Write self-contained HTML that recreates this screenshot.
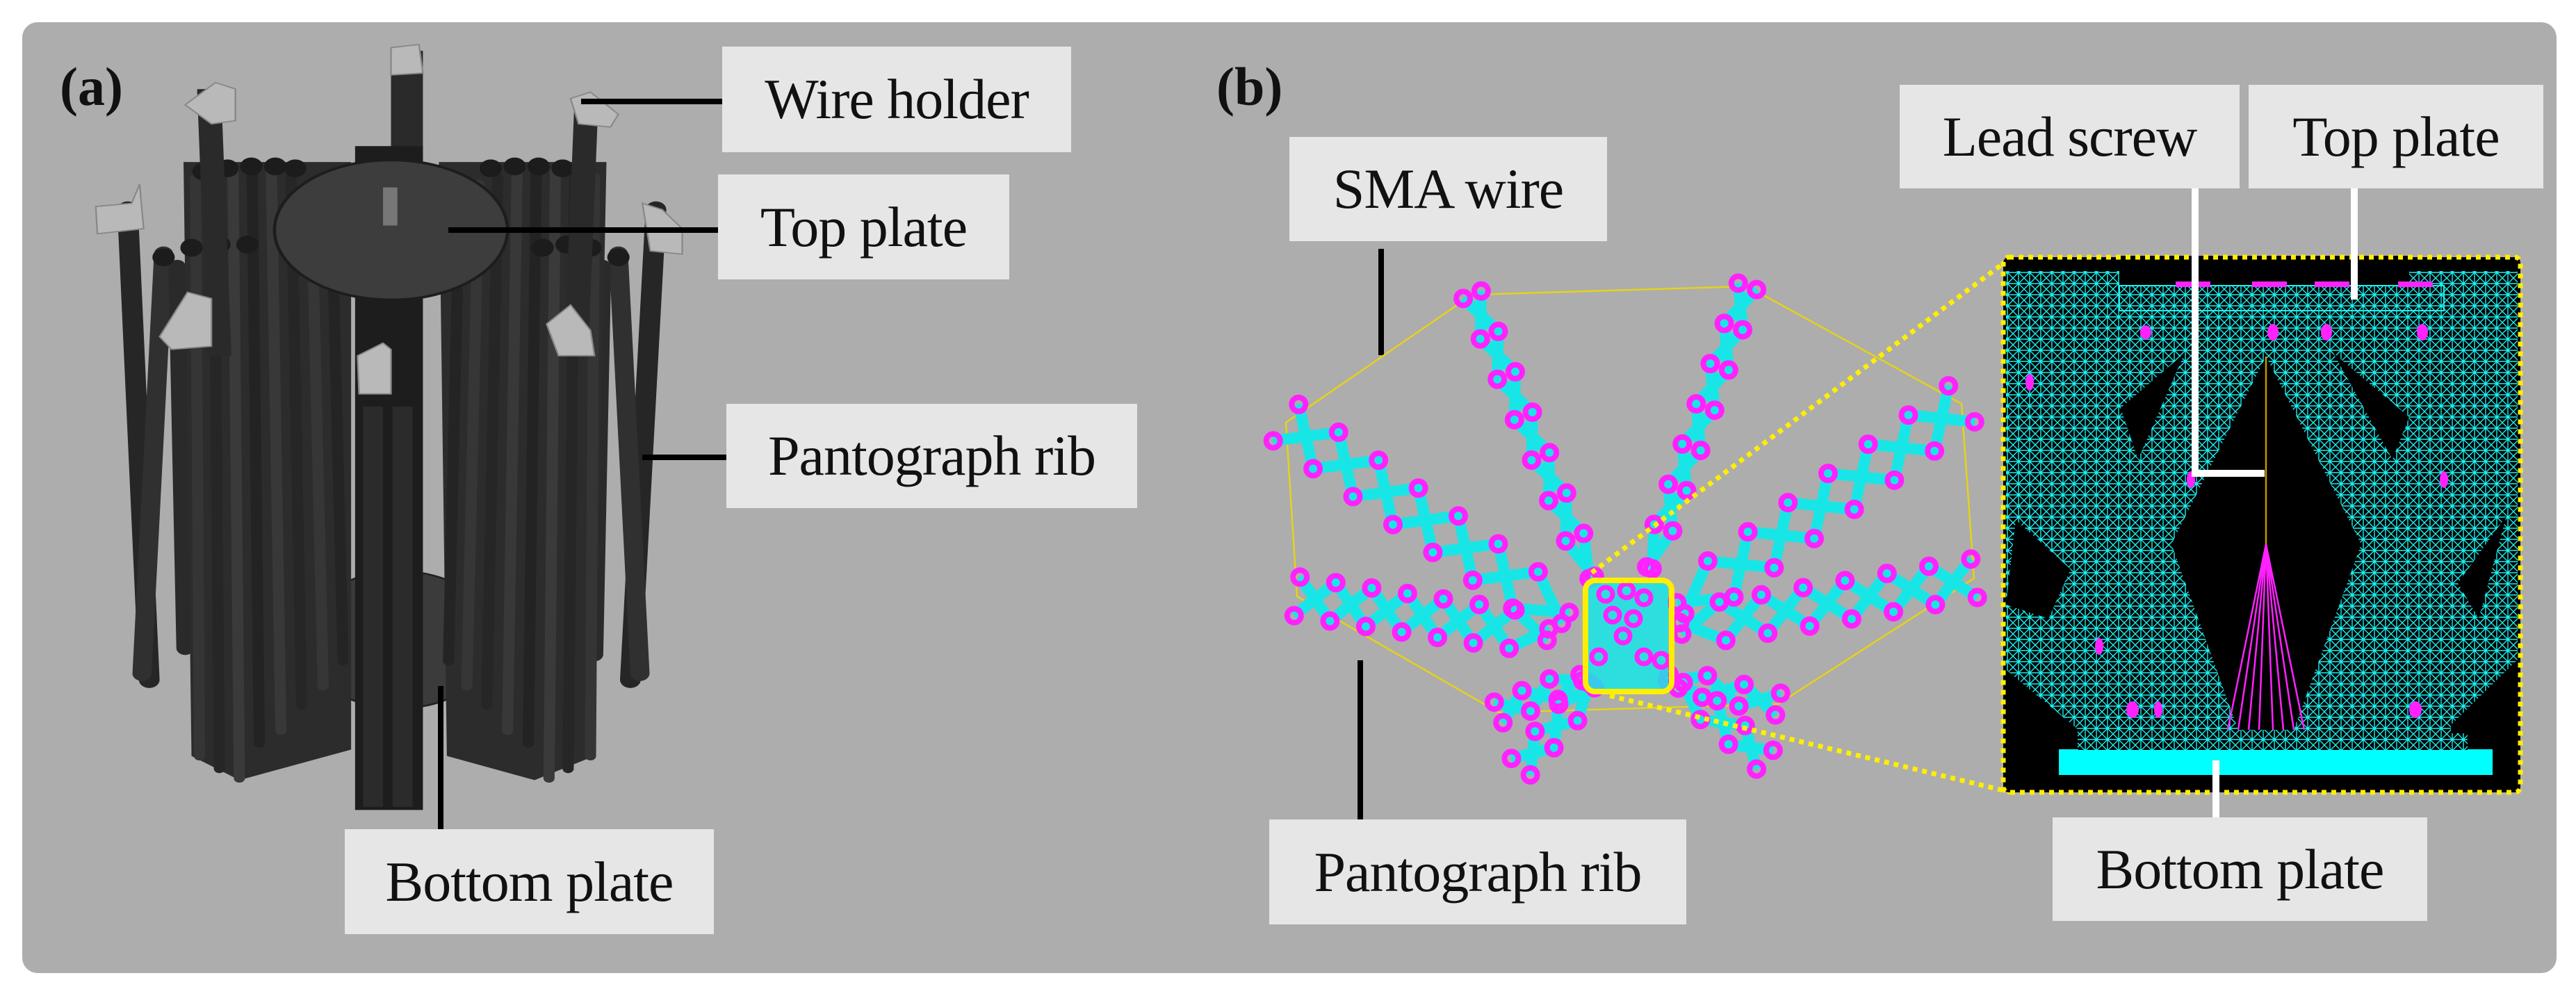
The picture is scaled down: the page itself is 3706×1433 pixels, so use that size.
<!DOCTYPE html>
<html><head><meta charset="utf-8"><style>
html,body{margin:0;padding:0;background:#fff;}
body{width:3706px;height:1433px;position:relative;overflow:hidden;font-family:"Liberation Serif",serif;}
.panel{position:absolute;left:32px;top:32px;width:3646px;height:1368px;background:#adadad;border-radius:22px;}
.lab{position:absolute;background:#e6e6e6;color:#111;font-size:82px;display:flex;align-items:center;justify-content:center;white-space:nowrap;letter-spacing:-1px;}
.tag{position:absolute;font-weight:bold;font-size:78px;color:#111;}
svg{position:absolute;left:0;top:0;}
</style></head><body>
<div class="panel"></div>
<svg width="3706" height="1433" viewBox="0 0 3706 1433">
<defs>
<pattern id="mesh" width="16" height="16" patternUnits="userSpaceOnUse">
<rect width="16" height="16" fill="#000"/>
<path d="M0 0L16 16M16 0L0 16M0 8H16M8 0V16" stroke="#1ef0f0" stroke-width="1.4"/>
</pattern>
</defs>
<!-- LEFT MECHANISM -->
<g transform="scale(1.148,0.914)">
<ellipse cx="500" cy="1007" rx="122" ry="108" fill="#3b3b3b" stroke="#222" stroke-width="3"/>
<g stroke-linecap="round">
<line x1="160" y1="330" x2="187" y2="1070" stroke="#262626" stroke-width="26"/>
<line x1="205" y1="400" x2="178" y2="1060" stroke="#303030" stroke-width="24"/>
<line x1="222" y1="420" x2="232" y2="1020" stroke="#2a2a2a" stroke-width="22"/>
<line x1="822" y1="330" x2="790" y2="1070" stroke="#262626" stroke-width="26"/>
<line x1="775" y1="400" x2="802" y2="1060" stroke="#303030" stroke-width="24"/>
<line x1="755" y1="420" x2="745" y2="1030" stroke="#2a2a2a" stroke-width="22"/>
</g>
<polygon points="230,255 440,255 440,1180 300,1228 240,1190" fill="#2c2c2c"/>
<polygon points="550,255 760,255 745,1190 670,1228 560,1190" fill="#2c2c2c"/>
<g stroke-width="14" stroke-linecap="round">
<line x1="245" y1="280" x2="250" y2="1190" stroke="#353535"/>
<line x1="268" y1="270" x2="275" y2="1210" stroke="#262626"/>
<line x1="292" y1="270" x2="300" y2="1225" stroke="#3a3a3a"/>
<line x1="316" y1="270" x2="325" y2="1170" stroke="#232323"/>
<line x1="340" y1="270" x2="352" y2="1150" stroke="#383838"/>
<line x1="365" y1="280" x2="378" y2="1110" stroke="#262626"/>
<line x1="390" y1="290" x2="405" y2="1080" stroke="#363636"/>
<line x1="415" y1="300" x2="430" y2="1040" stroke="#242424"/>
<line x1="745" y1="280" x2="740" y2="1190" stroke="#353535"/>
<line x1="720" y1="270" x2="712" y2="1210" stroke="#262626"/>
<line x1="696" y1="270" x2="688" y2="1225" stroke="#3a3a3a"/>
<line x1="672" y1="270" x2="662" y2="1170" stroke="#232323"/>
<line x1="648" y1="270" x2="636" y2="1150" stroke="#383838"/>
<line x1="624" y1="280" x2="610" y2="1110" stroke="#262626"/>
<line x1="600" y1="290" x2="585" y2="1080" stroke="#363636"/>
<line x1="576" y1="300" x2="562" y2="1040" stroke="#242424"/>
</g>
<g fill="#1c1c1c">
<circle cx="255" cy="270" r="14"/><circle cx="285" cy="265" r="14"/><circle cx="315" cy="262" r="14"/><circle cx="345" cy="262" r="14"/><circle cx="370" cy="265" r="14"/>
<circle cx="240" cy="390" r="14"/><circle cx="275" cy="385" r="14"/><circle cx="310" cy="385" r="14"/>
<circle cx="615" cy="265" r="14"/><circle cx="645" cy="262" r="14"/><circle cx="675" cy="262" r="14"/><circle cx="705" cy="265" r="14"/>
<circle cx="680" cy="390" r="14"/><circle cx="710" cy="385" r="14"/><circle cx="740" cy="390" r="14"/>
<circle cx="205" cy="405" r="14"/><circle cx="775" cy="405" r="14"/>
</g>
<line x1="262" y1="140" x2="275" y2="560" stroke="#2a2a2a" stroke-width="30"/>
<line x1="735" y1="155" x2="722" y2="560" stroke="#2a2a2a" stroke-width="30"/>
<rect x="490" y="80" width="40" height="180" fill="#2a2a2a"/>
<rect x="445" y="230" width="85" height="1045" fill="#1d1d1d"/>
<rect x="455" y="640" width="25" height="630" fill="#2b2b2b"/>
<rect x="492" y="640" width="25" height="630" fill="#2b2b2b"/>
<ellipse cx="490" cy="362" rx="146" ry="110" fill="#3d3d3d" stroke="#1d1d1d" stroke-width="4"/>
<rect x="480" y="295" width="18" height="60" fill="#777"/>
<g fill="#b9b9b9" stroke="#888" stroke-width="2">
<polygon points="232,165 270,130 295,140 295,190 265,195"/>
<polygon points="715,155 740,145 775,180 765,200 725,195"/>
<polygon points="120,325 165,320 175,290 180,360 122,368"/>
<polygon points="805,320 830,330 855,360 855,400 815,395"/>
<polygon points="200,530 235,460 265,470 265,545 215,550"/>
<polygon points="685,510 715,480 740,520 745,560 700,560"/>
<polygon points="448,560 480,540 490,550 490,620 450,620"/>
<polygon points="490,75 525,70 530,115 490,118"/>
</g>
</g>
<!-- leaders (a) -->
<g stroke="#000" stroke-width="8">
<line x1="836" y1="146" x2="1039" y2="146"/>
<line x1="645" y1="331" x2="1033" y2="331"/>
<line x1="924" y1="658" x2="1045" y2="658"/>
<line x1="634" y1="987" x2="634" y2="1193"/>
<line x1="1987" y1="358" x2="1987" y2="511"/>
<line x1="1957" y1="950" x2="1957" y2="1179"/>
</g>
<!-- RIGHT (b) pantograph -->
<polygon points="2118,424 2514,412 2822,581 2840,832 2558,1013 2156,1025 1866,858 1850,608" fill="none" stroke="#e5d21a" stroke-width="2.5"/>
<g id="ribs"></g>
<rect x="2284" y="838" width="116" height="154" fill="#18e6e6" opacity="0.85"/>
<g fill="none" stroke="#ff22ff" stroke-width="7">
<circle cx="2310" cy="855" r="10"/><circle cx="2340" cy="850" r="10"/><circle cx="2365" cy="860" r="10"/><circle cx="2320" cy="885" r="10"/><circle cx="2350" cy="890" r="10"/><circle cx="2335" cy="915" r="10"/><circle cx="2300" cy="945" r="10"/><circle cx="2365" cy="945" r="10"/><circle cx="2390" cy="950" r="10"/>
</g>
<g stroke="#ffee00" stroke-width="7" stroke-dasharray="7,7">
<line x1="2290" y1="824" x2="2894" y2="370"/>
<line x1="2316" y1="1001" x2="2894" y2="1140"/>
</g>
<rect x="2281" y="835" width="124" height="160" rx="14" fill="none" stroke="#ffee00" stroke-width="8"/>
<!-- INSET -->
<rect x="2882" y="370" width="744" height="770" rx="8" fill="#000"/>
<rect x="2886" y="390" width="736" height="690" fill="url(#mesh)"/>
<g fill="#000">
<rect x="3049" y="368" width="417" height="42"/>
<polygon points="3260,513 3397,783 3300,1050 3220,1050 3124,783"/>
<polygon points="3143,508 3051,587 3076,661"/>
<polygon points="3357,508 3466,600 3442,661"/>
<polygon points="2900,748 2979,819 2947,890 2886,870"/>
<polygon points="3606,742 3566,890 3536,839"/>
<polygon points="2884,962 2989,1049 2989,1138 2884,1138"/>
<polygon points="3624,947 3526,1043 3526,1138 3624,1138"/>
</g>
<rect x="3049" y="411" width="467" height="36" fill="url(#mesh)" stroke="#1ef0f0" stroke-width="2"/>
<g fill="#ff22ff">
<ellipse cx="3087" cy="478" rx="8" ry="10"/><ellipse cx="3270" cy="478" rx="8" ry="12"/><ellipse cx="3347" cy="478" rx="8" ry="12"/><ellipse cx="3485" cy="478" rx="8" ry="12"/>
<ellipse cx="2920" cy="550" rx="6" ry="12"/><ellipse cx="3152" cy="690" rx="6" ry="12"/><ellipse cx="3516" cy="690" rx="6" ry="12"/><ellipse cx="3020" cy="930" rx="6" ry="12"/>
<ellipse cx="3068" cy="1021" rx="9" ry="12"/><ellipse cx="3105" cy="1021" rx="6" ry="12"/><ellipse cx="3475" cy="1021" rx="9" ry="12"/>
<rect x="3130" y="405" width="50" height="8"/><rect x="3240" y="405" width="50" height="8"/><rect x="3330" y="405" width="50" height="8"/><rect x="3450" y="405" width="50" height="8"/>
</g>
<rect x="2962" y="1078" width="624" height="37" fill="#00ffff"/>
<rect x="2990" y="1055" width="560" height="24" fill="url(#mesh)"/>
<line x1="3260" y1="513" x2="3260" y2="783" stroke="#c89600" stroke-width="2.5"/>
<g stroke="#ff22ff" stroke-width="2.5">
<line x1="3260" y1="783" x2="3220" y2="1050"/><line x1="3260" y1="783" x2="3300" y2="1050"/>
<line x1="3260" y1="783" x2="3235" y2="1050"/><line x1="3260" y1="783" x2="3285" y2="1050"/>
<line x1="3260" y1="783" x2="3250" y2="1050"/><line x1="3260" y1="783" x2="3270" y2="1050"/>
<line x1="3260" y1="783" x2="3205" y2="1050"/><line x1="3260" y1="783" x2="3315" y2="1050"/>
</g>
<rect x="2882" y="370" width="744" height="770" rx="8" fill="none" stroke="#ffee00" stroke-width="7" stroke-dasharray="7,7"/>
<g stroke="#fff" stroke-width="10" fill="none">
<polyline points="3158,271 3158,681 3258,681"/>
<line x1="3387" y1="271" x2="3387" y2="431"/>
<line x1="3188" y1="1094" x2="3188" y2="1176"/>
</g>
</svg>
<div class="tag" style="left:86px;top:80px;">(a)</div>
<div class="tag" style="left:1750px;top:80px;">(b)</div>
<div class="lab" style="left:1039px;top:67px;width:502px;height:152px;">Wire holder</div>
<div class="lab" style="left:1033px;top:251px;width:419px;height:151px;">Top plate</div>
<div class="lab" style="left:1045px;top:581px;width:591px;height:150px;">Pantograph rib</div>
<div class="lab" style="left:496px;top:1193px;width:531px;height:151px;">Bottom plate</div>
<div class="lab" style="left:1855px;top:197px;width:457px;height:150px;">SMA wire</div>
<div class="lab" style="left:2733px;top:122px;width:489px;height:149px;">Lead screw</div>
<div class="lab" style="left:3235px;top:122px;width:424px;height:149px;">Top plate</div>
<div class="lab" style="left:2953px;top:1176px;width:539px;height:149px;">Bottom plate</div>
<div class="lab" style="left:1826px;top:1179px;width:600px;height:151px;">Pantograph rib</div>
<script>
(function(){
var g=document.getElementById("ribs");
var ribs=[[2290,831,2118,424,7,14],[2373,817,2514,412,7,14],[2252,889,1850,608,7,32],[2227,913,1866,858,7,28],
[2418,875,2822,581,7,32],[2418,904,2840,832,7,28],[2290,986,2188,1103,3,18],[2418,986,2539,1093,3,18],
[2275,975,2156,1025,3,16],[2400,975,2558,1013,3,16]];
var lines="",circ="";
ribs.forEach(function(r){
var ax=r[0],ay=r[1],bx=r[2],by=r[3],n=r[4],w=r[5];
var dx=bx-ax,dy=by-ay,L=Math.sqrt(dx*dx+dy*dy),px=-dy/L,py=dx/L;
var c1=[],c2=[];
for(var i=0;i<=n;i++){var t=i/n,s=(i%2?1:-1)*w*(i==0?0.3:1);
var x=ax+dx*t,y=ay+dy*t;c1.push([x+px*s,y+py*s]);c2.push([x-px*s,y-py*s]);}
[c1,c2].forEach(function(c){lines+='<polyline points="'+c.map(function(p){return p[0].toFixed(1)+","+p[1].toFixed(1)}).join(" ")+'"/>';
c.forEach(function(p){circ+='<circle cx="'+p[0].toFixed(1)+'" cy="'+p[1].toFixed(1)+'" r="10"/>';});});
});
g.innerHTML='<g fill="none" stroke="#18e6e6" stroke-width="16" stroke-linejoin="round">'+lines+'</g><g fill="none" stroke="#ff22ff" stroke-width="8">'+circ+'</g>';
})();
</script>
</body></html>
